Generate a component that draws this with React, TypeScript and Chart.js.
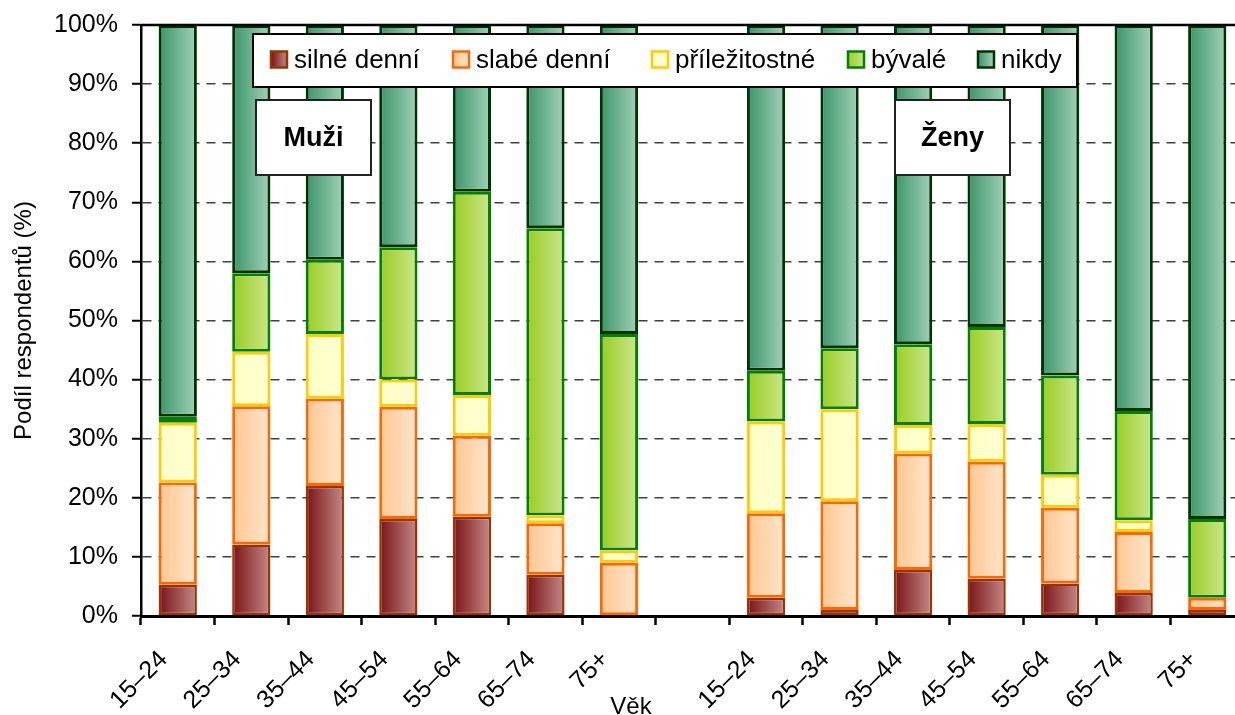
import React, { useEffect, useRef } from 'react';
import { Chart, registerables } from 'chart.js';

Chart.register(...registerables);

// ---- data ----
const categories = ['15–24', '25–34', '35–44', '45–54', '55–64', '65–74', '75+', '', '15–24', '25–34', '35–44', '45–54', '55–64', '65–74', '75+'];
const silneDenni = [5.3, 12.1, 22.0, 16.4, 16.8, 7.0, 0, null, 3.1, 1.0, 7.8, 6.3, 5.5, 3.9, 1.0];
const slabeDenni = [17.3, 23.4, 14.8, 19.0, 13.7, 8.7, 9.0, null, 14.3, 18.4, 19.7, 19.8, 12.8, 10.3, 2.1];
const prilezitostne = [10.1, 9.2, 10.9, 4.6, 6.9, 1.3, 2.1, null, 15.5, 15.6, 4.8, 6.4, 5.6, 2.0, 0];
const byvale = [1.0, 13.3, 12.6, 22.4, 34.4, 48.6, 36.6, null, 8.6, 10.3, 13.7, 16.4, 16.8, 18.5, 13.3];
const nikdy = [66.3, 42.0, 39.7, 37.6, 28.2, 34.4, 52.3, null, 58.5, 54.7, 54.0, 51.1, 59.3, 65.3, 83.6];
const seriesLabels = ['silné denní', 'slabé denní', 'příležitostné', 'bývalé', 'nikdy'];
const groupLabels = ['Muži', 'Ženy'];
const yAxisTitle = 'Podíl respondentů (%)';
const xAxisTitle = 'Věk';
const yMin = 0;
const yMax = 100;
const yStep = 10;

// ---- styles ----
const FONT = "'Liberation Sans', Arial, sans-serif";
const BAR_PCT = 0.52;
const styles = [
  { stops: ['#7A1216', '#C48A88'], border: '#993300', width: 2.5 },
  { stops: ['#FFC68F', '#FFE6CE'], border: '#FF6600', width: 3 },
  { stops: ['#FFFFC6', '#FFFFD2'], border: '#FFCC00', width: 3 },
  { stops: ['#99CC1F', '#CCE68C'], border: '#008000', width: 3 },
  { stops: ['#3A9468', '#A2D2B8'], border: '#003300', width: 3 },
];
const seriesData = [silneDenni, slabeDenni, prilezitostne, byvale, nikdy];

function gradientFor(si: number) {
  return (ctx: any) => {
    const chart = ctx.chart;
    const x = chart.scales && chart.scales.x;
    if (!x || ctx.type !== 'data' || !chart.chartArea) return styles[si].stops[1];
    const cx = x.getPixelForValue(ctx.dataIndex);
    const w = (x.width / categories.length) * BAR_PCT;
    const g = chart.ctx.createLinearGradient(cx - w / 2, 0, cx + w / 2, 0);
    g.addColorStop(0, styles[si].stops[0]);
    g.addColorStop(1, styles[si].stops[1]);
    return g;
  };
}

const overlayPlugin = {
  id: 'overlay',
  afterDraw(chart: any) {
    const { ctx, chartArea } = chart;
    ctx.save();
    // top frame line
    ctx.strokeStyle = '#000';
    ctx.lineWidth = 2.5;
    ctx.beginPath();
    ctx.moveTo(chartArea.left, chartArea.top);
    ctx.lineTo(chartArea.right + 20, chartArea.top);
    ctx.stroke();

    // legend
    const lx = 253, ly = 34, lw = 824, lh = 53;
    ctx.fillStyle = '#fff';
    ctx.fillRect(lx, ly, lw, lh);
    ctx.strokeStyle = '#000';
    ctx.lineWidth = 2;
    ctx.strokeRect(lx, ly, lw, lh);
    const swatchX = [271, 453, 652, 848, 978];
    const sw = 16;
    const cy = ly + lh / 2 - 1;
    ctx.font = `26px ${FONT}`;
    ctx.textBaseline = 'middle';
    ctx.textAlign = 'left';
    chart.data.datasets.forEach((ds: any, i: number) => {
      const sx = swatchX[i];
      const g = ctx.createLinearGradient(sx, 0, sx + sw, 0);
      g.addColorStop(0, styles[i].stops[0]);
      g.addColorStop(1, styles[i].stops[1]);
      ctx.fillStyle = g;
      ctx.fillRect(sx, cy - sw / 2, sw, sw);
      ctx.strokeStyle = styles[i].border;
      ctx.lineWidth = 2.5;
      ctx.strokeRect(sx, cy - sw / 2, sw, sw);
      ctx.fillStyle = '#000';
      ctx.fillText(ds.label, sx + sw + 7, cy + 1);
    });

    // group annotation boxes
    const boxes = [256, 895];
    groupLabels.forEach((t, i) => {
      const bx = boxes[i], by = 100, bw = 115, bh = 75;
      ctx.fillStyle = '#fff';
      ctx.fillRect(bx, by, bw, bh);
      ctx.strokeStyle = '#222';
      ctx.lineWidth = 2;
      ctx.strokeRect(bx, by, bw, bh);
      ctx.fillStyle = '#000';
      ctx.font = `bold 27px ${FONT}`;
      ctx.textAlign = 'center';
      ctx.textBaseline = 'middle';
      ctx.fillText(t, bx + bw / 2, by + bh / 2 + 1);
    });

    // x axis title
    ctx.font = `24px ${FONT}`;
    ctx.textAlign = 'center';
    ctx.textBaseline = 'alphabetic';
    ctx.fillStyle = '#000';
    ctx.fillText(xAxisTitle, 631, 714);
    ctx.restore();
  },
};

export default function App() {
  const ref = useRef<HTMLCanvasElement>(null);
  useEffect(() => {
    if (!ref.current) return;
    const chart = new Chart(ref.current, {
      type: 'bar',
      data: {
        labels: categories,
        datasets: seriesData.map((d, i) => ({
          label: seriesLabels[i],
          data: d,
          backgroundColor: gradientFor(i),
          borderColor: styles[i].border,
          borderWidth: styles[i].width,
          borderSkipped: false,
          barPercentage: BAR_PCT,
          categoryPercentage: 1,
        })),
      },
      options: {
        responsive: false,
        animation: false,
        devicePixelRatio: 1,
        layout: { padding: { top: 25, left: 0, right: 16, bottom: 0 } },
        plugins: { legend: { display: false }, tooltip: { enabled: false } },
        scales: {
          x: {
            stacked: true,
            grid: {
              offset: true,
              drawOnChartArea: false,
              drawTicks: true,
              tickLength: 9,
              tickColor: '#000',
              tickWidth: 2.5,
            },
            border: { color: '#000', width: 3 },
            ticks: {
              autoSkip: false,
              maxRotation: 45,
              minRotation: 45,
              color: '#000',
              font: { family: FONT, size: 25 },
              padding: 20,
              labelOffset: -14,
            },
            afterFit: (s: any) => { s.height = 104; s.paddingLeft = 0; s.paddingRight = 0; },
          },
          y: {
            stacked: true,
            min: yMin,
            max: yMax,
            ticks: {
              stepSize: yStep,
              color: '#000',
              font: { family: FONT, size: 25 },
              padding: 14,
              callback: (v: any) => v + '%',
            },
            grid: {
              color: (c: any) => (c.tick && c.tick.value === yMax ? 'rgba(0,0,0,0)' : '#404040'),
              lineWidth: 1.5,
              drawTicks: true,
              tickLength: 9,
              tickColor: '#000',
              tickWidth: 2,
              tickBorderDash: [],
            },
            border: { color: '#000', width: 2.5, dash: [9, 7] },
            title: {
              display: true,
              text: yAxisTitle,
              color: '#000',
              font: { family: FONT, size: 24 },
              padding: { top: 10, bottom: 0 },
            },
            afterFit: (s: any) => { s.width = 141; s.paddingTop = 0; s.paddingBottom = 0; },
          },
        },
      },
      plugins: [overlayPlugin],
    });
    return () => chart.destroy();
  }, []);
  return (
    <div style={{ position: 'fixed', left: 0, top: 0, width: 1235, height: 715, overflow: 'hidden', background: '#fff' }}>
      <canvas ref={ref} width={1260} height={720} style={{ display: 'block' }} />
    </div>
  );
}
